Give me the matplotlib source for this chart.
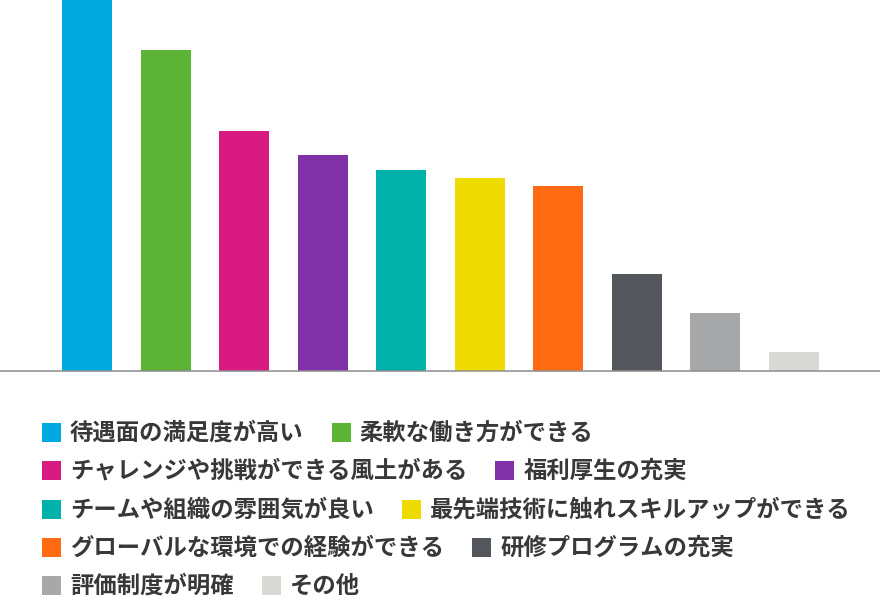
import matplotlib
matplotlib.use('Agg')
import matplotlib.pyplot as plt
from matplotlib.patches import Rectangle

plt.rcParams['font.family'] = ['Noto Sans CJK JP', 'DejaVu Sans']

labels = ['待遇面の満足度が高い', '柔軟な働き方ができる',
          'チャレンジや挑戦ができる風土がある', '福利厚生の充実',
          'チームや組織の雰囲気が良い', '最先端技術に触れスキルアップができる',
          'グローバルな環境での経験ができる', '研修プログラムの充実',
          '評価制度が明確', 'その他']
values = [74.2, 64.2, 48.0, 43.3, 40.2, 38.6, 37.1, 19.4, 11.6, 3.9]
colors = ['#00a9e0', '#5cb335', '#d91a82', '#8031a7', '#00b2a9',
          '#eedc00', '#ff6a13', '#53565a', '#a7a8aa', '#d9d9d6']

W, H = 880, 600
fig = plt.figure(figsize=(W / 100, H / 100), dpi=100)

base_y = 371
ax = fig.add_axes([0, 1 - base_y / H, 1, base_y / H])
x = list(range(len(values)))
step = 78.5
ax.bar(x, values, width=50 / step, color=colors)
ax.set_xlim(-87 / step, 9 + (W - 793.5) / step)
ax.set_ylim(0, max(values))
for s in ['top', 'right', 'left']:
    ax.spines[s].set_visible(False)
ax.spines['bottom'].set_color('#8c8c8c')
ax.spines['bottom'].set_linewidth(1.1)
ax.set_xticks([])
ax.set_yticks([])

# legend, two items per row
renderer = fig.canvas.get_renderer()
row_y = [432.5, 470.5, 509.5, 547.5, 585.5]
sq = 19
for r, cy in enumerate(row_y):
    px = 42
    for i in (2 * r, 2 * r + 1):
        fig.add_artist(Rectangle((px / W, 1 - (cy + sq / 2) / H), sq / W, sq / H,
                                 transform=fig.transFigure, color=colors[i], lw=0))
        t = fig.text((px + 28) / W, 1 - cy / H, labels[i], fontsize=16.8,
                     fontweight='bold', color='#383838', va='center', ha='left')
        bb = t.get_window_extent(renderer)
        px = bb.x1 + 28

fig.savefig('out.png', dpi=100)
